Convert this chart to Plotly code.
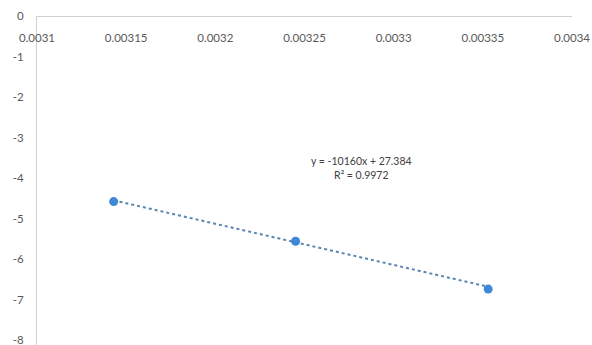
import numpy as np
import plotly.graph_objects as go

# 1/T values and ln(k) values
inv_t = [0.003143, 0.003245, 0.003353]
ln_k = [-4.58, -5.56, -6.74]

# linear trendline parameters
slope = -10160
intercept = 27.384
r_squared = 0.9972

x_ticks = [0.0031, 0.00315, 0.0032, 0.00325, 0.0033, 0.00335, 0.0034]
x_tick_text = ["0.0031", "0.00315", "0.0032", "0.00325", "0.0033", "0.00335", "0.0034"]
y_ticks = [0, -1, -2, -3, -4, -5, -6, -7, -8]

font_family = "Lato, 'Open Sans', sans-serif"
text_color = "#595959"
axis_color = "#d0d0d0"
point_color = "#3f88d6"

trend_x = np.array([min(inv_t), max(inv_t)])
trend_y = slope * trend_x + intercept

fig = go.Figure()

fig.add_trace(go.Scatter(
    x=trend_x, y=trend_y, mode="lines",
    line=dict(color="#5a86b0", width=2, dash="dot"),
    hoverinfo="skip", showlegend=False,
))

fig.add_trace(go.Scatter(
    x=inv_t, y=ln_k, mode="markers",
    marker=dict(color=point_color, size=9),
    showlegend=False,
))

fig.add_annotation(
    x=0.003282, y=-3.75, xref="x", yref="y",
    text=f"y = {slope}x + {intercept}<br>R\u00b2 = {r_squared}",
    showarrow=False, align="center",
    font=dict(family=font_family, size=10.5, color="#404040"),
)

fig.update_layout(
    width=592, height=345,
    margin=dict(l=37, r=20, t=16, b=0),
    paper_bgcolor="white", plot_bgcolor="white",
    font=dict(family=font_family, size=11.5, color=text_color),
    xaxis=dict(
        range=[0.0031, 0.0034],
        side="bottom", anchor="free", position=1,
        tickvals=x_ticks, ticktext=x_tick_text,
        ticklabeloverflow="allow",
        ticklabelstandoff=11,
        ticks="", showgrid=False, zeroline=False,
        showline=True, linecolor=axis_color, linewidth=1,
        tickfont=dict(size=11.5, color=text_color),
    ),
    yaxis=dict(
        range=[-8.12, 0],
        tickvals=y_ticks, ticktext=[str(v) for v in y_ticks],
        ticklabeloverflow="allow",
        ticks="", showgrid=False, zeroline=False,
        showline=True, linecolor=axis_color, linewidth=1,
        ticklabelstandoff=10,
        tickfont=dict(size=11.5, color=text_color),
    ),
)

fig.write_html("out.html")
